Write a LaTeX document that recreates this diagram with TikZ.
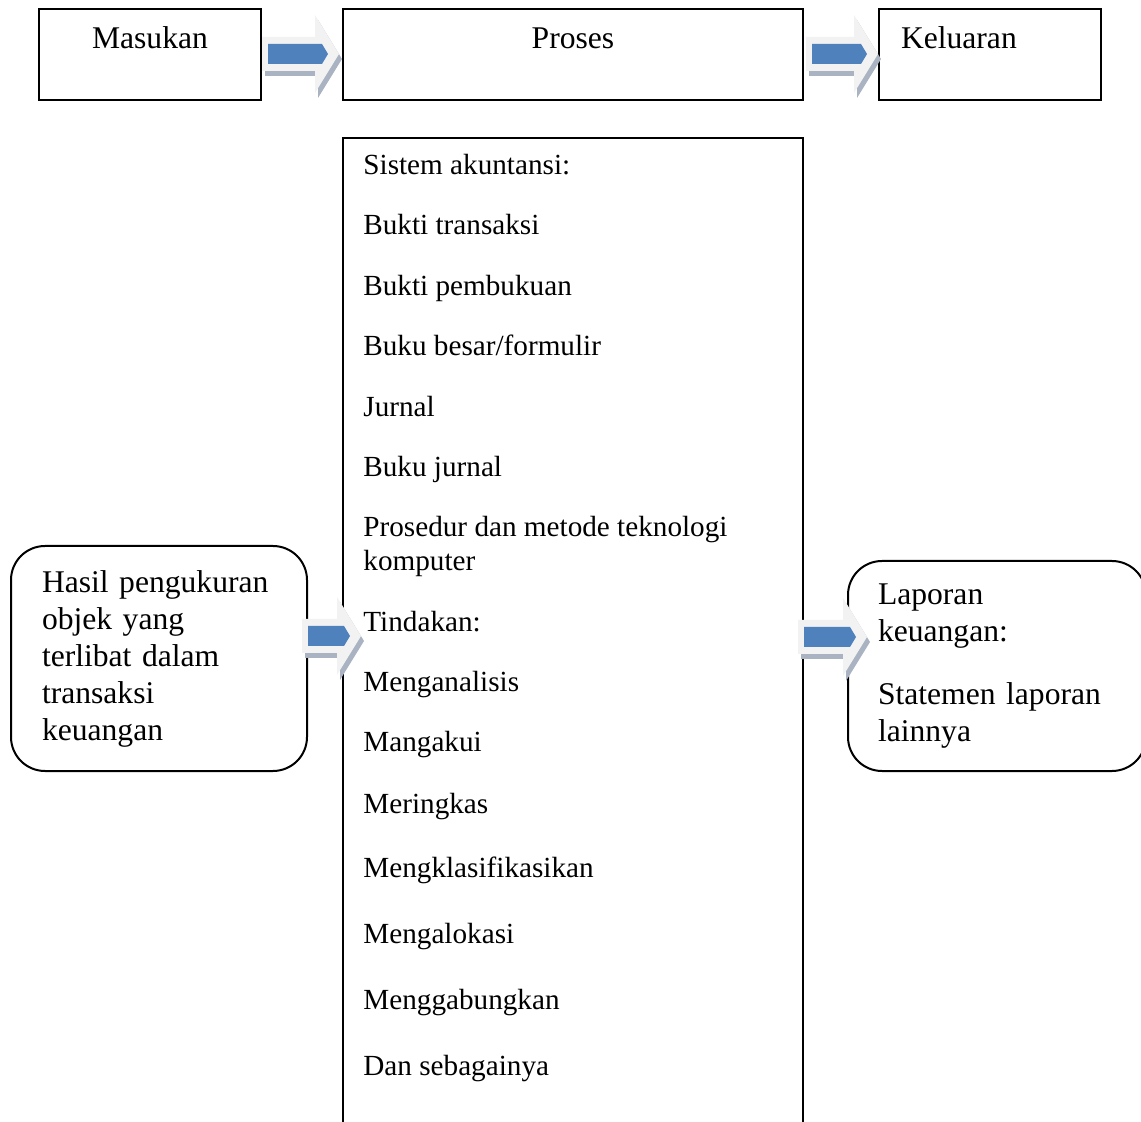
\documentclass[tikz,border=0pt]{standalone}
\usepackage{fontspec}
\setmainfont{Liberation Serif}
\usepackage{tikz}
\usepackage{xcolor}

\definecolor{arrowblue}{HTML}{4F81BD}
\definecolor{arrowlight}{HTML}{F2F2F2}
\definecolor{arrowshade}{HTML}{A9B3C2}

\tikzset{
    box/.style={draw, line width=1pt, anchor=north west, inner sep=0pt},
    headbox/.style={box, minimum height=45.5pt, text height=20pt, text depth=25.5pt},
    item/.style={anchor=base west, inner sep=0pt, font=\fontsize{14.6}{17}\selectfont},
    pics/blockarr/.style={code={
        \fill[arrowshade] (3,-12) -- ({#1-21},-12) -- ({#1-21},-34) -- ({#1+3},5)
            -- ({#1-21},44) -- ({#1-21},22) -- (3,22) -- cycle;
        \fill[arrowlight] (0,-17) -- ({#1-24},-17) -- ({#1-24},-39) -- (#1,0)
            -- ({#1-24},39) -- ({#1-24},17) -- (0,17) -- cycle;
        \fill[arrowblue] (6,-10) -- ({#1-17},-10) -- ({#1-11},0) -- ({#1-17},10)
            -- (6,10) -- cycle;
    }}
}

\begin{document}
\begin{tikzpicture}[x=0.5pt, y=-0.5pt,
        every node/.style={font=\fontsize{15.8}{18.5}\selectfont}]
    \useasboundingbox (0,0) rectangle (1141,1122);

    % top row
    \node[headbox, minimum width=111pt] (masukan) at (38,8) {Masukan};
    \node[headbox, minimum width=230pt] (proses) at (342,8) {Proses};
    \node[headbox, minimum width=111pt, inner xsep=11pt, text width=89pt, align=left] (keluaran) at (878,8) {Keluaran};

    % process list (box runs off the bottom)
    \node[box, minimum width=230pt, minimum height=520pt] (sistem) at (342,137) {};
    \foreach \yy/\t [count=\i] in {175/Sistem akuntansi:, 235/Bukti transaksi, 296/Bukti pembukuan,
            356/{Buku besar/formulir}, 417/Jurnal, 477/Buku jurnal, 537/Prosedur dan metode teknologi,
            571/komputer, 632/Tindakan:, 692/Menganalisis, 752/Mangakui, 813/Meringkas,
            877/Mengklasifikasikan, 943/Mengalokasi, 1009/Menggabungkan, 1075/Dan sebagainya}
        \node[item] (item\i) at (363,\yy) {\t};

    % input and output
    \node[box, rounded corners=17pt, minimum width=148pt, minimum height=112.5pt,
          inner xsep=15.5pt, text width=117pt, align=left] (hasil) at (10,545)
          {Hasil pengukuran\\objek yang\\terlibat dalam\\transaksi\\keuangan};
    \node[box, rounded corners=17pt, minimum width=149pt, minimum height=105pt,
          inner xsep=15pt, text width=119pt, align=left] (laporan) at (847,560)
          {Laporan\\keuangan:\\[13pt]Statemen laporan\\lainnya};

    % block arrows
    \pic at (262,54) {blockarr=77};
    \pic at (806,54) {blockarr=72};
    \pic at (302,636) {blockarr=59};
    \pic at (798,637) {blockarr=69};
\end{tikzpicture}
\end{document}
